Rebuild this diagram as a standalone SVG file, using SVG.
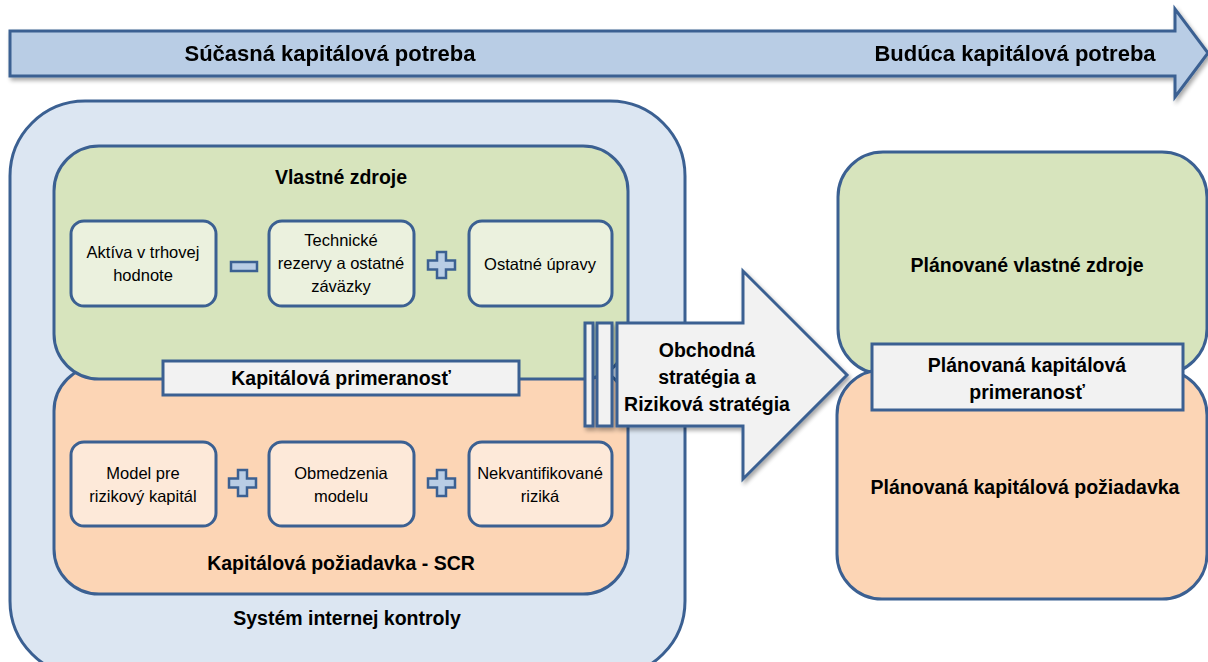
<svg xmlns="http://www.w3.org/2000/svg" width="1208" height="662" viewBox="0 0 1208 662">
<defs>
<filter id="sh" x="-10%" y="-10%" width="130%" height="130%">
<feGaussianBlur in="SourceAlpha" stdDeviation="2"/>
<feOffset dx="2" dy="3" result="b"/>
<feComponentTransfer><feFuncA type="linear" slope="0.35"/></feComponentTransfer>
<feMerge><feMergeNode/><feMergeNode in="SourceGraphic"/></feMerge>
</filter>
</defs>
<style>
.st{stroke:#3b6092;stroke-width:3}
.t{font-family:"Liberation Sans",Arial,sans-serif;fill:#000;text-anchor:middle}
.b{font-weight:bold}
.s15{font-size:16.5px}
.s17{font-size:19.5px}
.s18{font-size:19.5px}
.s20{font-size:22px}
.sign{fill:#b9cde5;stroke:#3b6092;stroke-width:2.5}
</style>

<g id="time-arrow" filter="url(#sh)">
<path class="st" d="M10,31 H1175 V9 L1208,53 L1175,97 V76 H10 Z" fill="#b9cde5"/>
<text class="t b s20" x="330" y="61">Súčasná kapitálová potreba</text>
<text class="t b s20" x="1015" y="61">Budúca kapitálová potreba</text>
</g>

<g id="internal-control">
<rect class="st" x="10" y="101" width="675" height="575" rx="75" fill="#dce6f2"/>
<text class="t b s18" x="347" y="625">Systém internej kontroly</text>
</g>

<g id="capital-requirement">
<rect class="st" x="54" y="366" width="574" height="228" rx="45" fill="#fcd5b5"/>
<text class="t b s18" x="341" y="570">Kapitálová požiadavka - SCR</text>
</g>

<g id="own-funds">
<rect class="st" x="54" y="146" width="574" height="233" rx="45" fill="#d7e4bd"/>
<text class="t b s17" x="341" y="184">Vlastné zdroje</text>
</g>

<g id="assets">
<rect class="st" x="71" y="221" width="145" height="85" rx="13" fill="#ebf1de"/>
<text class="t s15" x="143" y="258">Aktíva v trhovej</text>
<text class="t s15" x="143" y="281">hodnote</text>
</g>
<g id="minus"><rect class="sign" x="231" y="262" width="26" height="9"/></g>
<g id="tech-reserves">
<rect class="st" x="269" y="221" width="145" height="85" rx="13" fill="#ebf1de"/>
<text class="t s15" x="341" y="246">Technické</text>
<text class="t s15" x="341" y="269">rezervy a ostatné</text>
<text class="t s15" x="341" y="292">záväzky</text>
</g>
<g id="plus1"><path class="sign" d="M437,252 h9 v8.5 h9 v9 h-9 v8.5 h-9 v-8.5 h-9 v-9 h9 Z"/></g>
<g id="other-adj">
<rect class="st" x="469" y="221" width="143" height="85" rx="13" fill="#ebf1de"/>
<text class="t s15" x="540" y="270">Ostatné úpravy</text>
</g>

<g id="adequacy">
<rect class="st" x="163" y="361" width="356" height="34" fill="#f2f2f2"/>
<text class="t b s17" x="341" y="385">Kapitálová primeranosť</text>
</g>

<g id="risk-model">
<rect class="st" x="71" y="442" width="145" height="84" rx="13" fill="#fde9d9"/>
<text class="t s15" x="143" y="479">Model pre</text>
<text class="t s15" x="143" y="502">rizikový kapitál</text>
</g>
<g id="plus2"><path class="sign" d="M238,470 h9 v8.5 h9 v9 h-9 v8.5 h-9 v-8.5 h-9 v-9 h9 Z"/></g>
<g id="model-limits">
<rect class="st" x="269" y="442" width="145" height="84" rx="13" fill="#fde9d9"/>
<text class="t s15" x="341" y="479">Obmedzenia</text>
<text class="t s15" x="341" y="502">modelu</text>
</g>
<g id="plus3"><path class="sign" d="M437,470 h9 v8.5 h9 v9 h-9 v8.5 h-9 v-8.5 h-9 v-9 h9 Z"/></g>
<g id="unquantified">
<rect class="st" x="469" y="442" width="143" height="84" rx="13" fill="#fde9d9"/>
<text class="t s15" x="540" y="479">Nekvantifikované</text>
<text class="t s15" x="540" y="502">riziká</text>
</g>

<g id="planned-own-funds">
<rect class="st" x="838" y="152" width="369" height="222" rx="45" fill="#d7e4bd"/>
<text class="t b s18" x="1027" y="272">Plánované vlastné zdroje</text>
</g>
<g id="planned-requirement">
<rect class="st" x="837" y="370" width="370" height="229" rx="45" fill="#fcd5b5"/>
<text class="t b s18" x="1025" y="494">Plánovaná kapitálová požiadavka</text>
</g>
<g id="planned-adequacy">
<rect class="st" x="872" y="344" width="311" height="66" fill="#f2f2f2"/>
<text class="t b s18" x="1027" y="372">Plánovaná kapitálová</text>
<text class="t b s18" x="1027" y="399">primeranosť</text>
</g>

<g id="connectors">
<g id="strategy-arrow" filter="url(#sh)">
<rect class="st" x="585" y="323" width="8" height="103" fill="#f2f2f2"/>
<rect class="st" x="597" y="323" width="15" height="103" fill="#f2f2f2"/>
<path class="st" d="M617,323 H743 V271 L847,375 L743,479 V426 H617 Z" fill="#f2f2f2"/>
</g>
<text class="t b s18" x="707" y="357">Obchodná</text>
<text class="t b s18" x="707" y="384">stratégia a</text>
<text class="t b s18" x="707" y="411">Riziková stratégia</text>
</g>
</svg>
